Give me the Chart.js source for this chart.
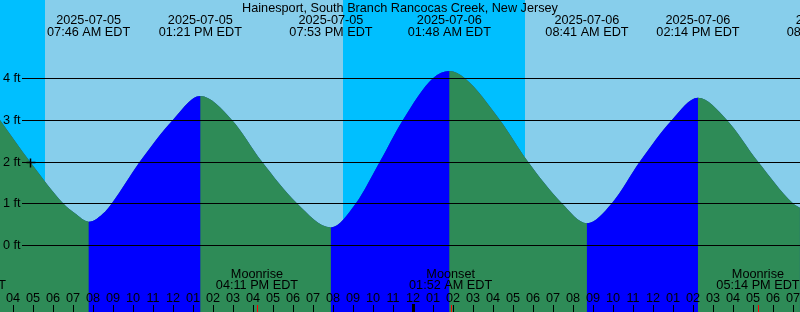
<!DOCTYPE html>
<html>
<head>
<meta charset="utf-8">
<script src="https://cdn.jsdelivr.net/npm/chart.js@4"></script>
<style>
  html, body { margin: 0; padding: 0; background: #87ceeb; }
  #tideBox { display: block; }
</style>
</head>
<body>
<canvas id="tideBox" width="800" height="312"></canvas>
<script>
// hours since 2025-07-05 00:00 EDT
const tideHours = [3.33, 4.83, 6.49, 7.08, 7.77, 8.59, 8.93, 10.33, 11.98, 13.35, 14.93, 16.43, 18.18, 19.88, 21.13, 22.33, 23.48, 24.98, 25.80, 26.58, 28.33, 29.73, 31.43, 32.68, 33.93, 35.33, 36.93, 38.23, 39.68, 41.23, 42.98, 43.33]
const tideFeet = [3.0, 2.0, 1.0, 0.76, 0.56, 0.8, 1.0, 2.0, 3.0, 3.57, 3.0, 2.0, 1.0, 0.42, 1.0, 2.0, 3.0, 4.0, 4.17, 4.0, 3.0, 2.0, 1.0, 0.52, 1.0, 2.0, 3.0, 3.53, 3.0, 2.0, 1.0, 0.89]

const eventHours = [7.767, 13.35, 19.883, 25.8, 32.683, 38.233, 44.75]
const eventDates = ['2025-07-05', '2025-07-05', '2025-07-05', '2025-07-06', '2025-07-06', '2025-07-06', '2025-07-06']
const eventTimes = ['07:46 AM EDT', '01:21 PM EDT', '07:53 PM EDT', '01:48 AM EDT', '08:41 AM EDT', '02:14 PM EDT', '08:45 PM EDT']

const moonHours = [1.55, 16.183, 25.867, 41.233]
const moonNames = ['Moonset', 'Moonrise', 'Moonset', 'Moonrise']
const moonTimes = ['01:33 AM EDT', '04:11 PM EDT', '01:52 AM EDT', '05:14 PM EDT']

const nightStart = [-3.5, 20.5, 44.53]
const nightEnd = [5.585, 29.585, 53.6]

const levelFeet = [0, 1, 2, 3, 4]
const nowHour = 4.83
const nowFeet = 2.0

const title = 'Hainesport, South Branch Rancocas Creek, New Jersey'
const font = '12.7px "Liberation Sans", Arial, sans-serif'

const tidePlugin = {
    id: 'tide',
    beforeDatasetsDraw(chart) {
        const ctx = chart.ctx
        const x = chart.scales.x
        ctx.save()
        ctx.fillStyle = '#87ceeb'
        ctx.fillRect(0, 0, chart.width, chart.height)
        ctx.fillStyle = '#00bfff'
        nightStart.forEach((s, i) => {
            const a = Math.round(x.getPixelForValue(s))
            const b = Math.round(x.getPixelForValue(nightEnd[i]))
            ctx.fillRect(a, 0, b - a, chart.height)
        })
        ctx.restore()
    },
    afterDatasetsDraw(chart) {
        const ctx = chart.ctx
        const x = chart.scales.x
        const y = chart.scales.y
        ctx.save()
        // level lines
        ctx.strokeStyle = '#000'
        ctx.lineWidth = 1
        ctx.font = font
        ctx.fillStyle = '#000'
        levelFeet.forEach(f => {
            const py = Math.round(y.getPixelForValue(f)) + 0.5
            ctx.beginPath()
            ctx.moveTo(22, py)
            ctx.lineTo(chart.width, py)
            ctx.stroke()
            ctx.textAlign = 'left'
            ctx.textBaseline = 'middle'
            ctx.fillText(f + ' ft', 3, py - 0.5)
        })
        // now marker
        const nx = Math.round(x.getPixelForValue(nowHour)) + 0.5
        const ny = Math.round(y.getPixelForValue(nowFeet)) + 0.5
        ctx.lineWidth = 1.5
        ctx.beginPath()
        ctx.moveTo(nx - 4, ny)
        ctx.lineTo(nx + 5, ny)
        ctx.moveTo(nx, ny - 4)
        ctx.lineTo(nx, ny + 5)
        ctx.stroke()
        // title and tide events
        ctx.textAlign = 'center'
        ctx.textBaseline = 'alphabetic'
        ctx.fillText(title, 400, 12)
        eventHours.forEach((h, i) => {
            const px = x.getPixelForValue(h)
            ctx.fillText(eventDates[i], px, 24)
            ctx.fillText(eventTimes[i], px, 36)
        })
        // moon events
        moonHours.forEach((h, i) => {
            const px = x.getPixelForValue(h)
            ctx.fillText(moonNames[i], px, 278)
            ctx.fillText(moonTimes[i], px, 289)
        })
        // hour ticks
        for (let h = Math.ceil(x.min); h <= Math.floor(x.max); h++) {
            const px = Math.round(x.getPixelForValue(h))
            const hr = ((h % 24) + 24) % 24
            const h12 = hr % 12 === 0 ? 12 : hr % 12
            ctx.fillText(String(h12).padStart(2, '0'), px, 301.5)
            if (hr === 0) {
                ctx.fillRect(px - 1, 304, 3, 8)
            } else {
                ctx.fillRect(px, 305, 1, 7)
            }
        }
        ctx.fillStyle = '#ff0000'
        moonHours.forEach(h => {
            const px = Math.round(x.getPixelForValue(h))
            ctx.fillRect(px, 305, 1, 7)
        })
        ctx.restore()
    }
}

const falling = c => c.p1.parsed.y < c.p0.parsed.y
const tidePoints = tideHours.map((h, i) => ({ x: h, y: tideFeet[i] }))

new Chart(document.querySelector('#tideBox').getContext('2d'), {
    type: 'line',
    data: {
        datasets: [{
            label: 'Tide',
            data: tidePoints,
            fill: 'start',
            cubicInterpolationMode: 'monotone',
            borderColor: 'rgba(0,0,0,0)',
            borderWidth: 0,
            pointRadius: 0,
            backgroundColor: '#2e8b57',
            order: 1,
            segment: {
                backgroundColor: c => falling(c) ? '#2e8b57' : '#0000ff',
                borderColor: () => 'rgba(0,0,0,0)'
            }
        }, {
            // under layer so the rising/falling seams do not show through
            label: 'Under',
            data: tidePoints,
            fill: 'start',
            cubicInterpolationMode: 'monotone',
            borderColor: 'rgba(0,0,0,0)',
            borderWidth: 0,
            pointRadius: 0,
            backgroundColor: '#17469c',
            order: 2
        }]
    },
    options: {
        responsive: false,
        animation: false,
        layout: { padding: 0, autoPadding: false },
        plugins: { legend: { display: false }, tooltip: { enabled: false } },
        scales: {
            x: { type: 'linear', display: false, min: 3.335, max: 43.335 },
            y: { type: 'linear', display: false, min: -1.607, max: 5.875 }
        }
    },
    plugins: [tidePlugin]
})
</script>
</body>
</html>
